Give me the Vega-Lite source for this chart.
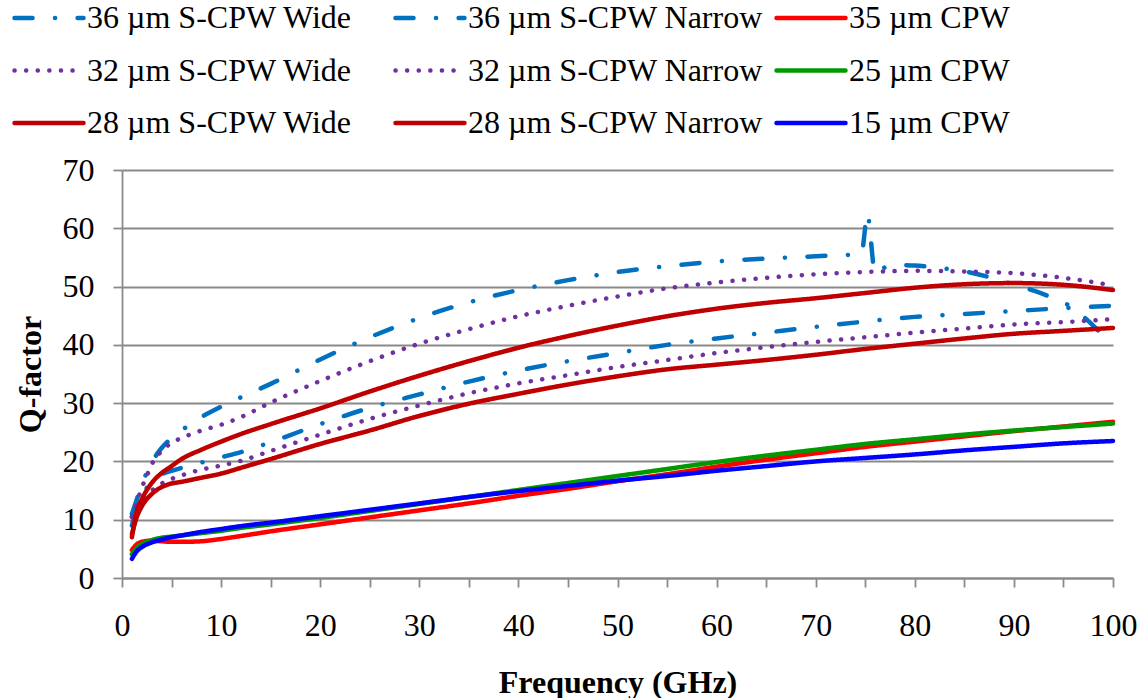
{
  "$schema": "https://vega.github.io/schema/vega-lite/v6.json",
  "width": 991,
  "height": 408,
  "autosize": {"type": "none"},
  "padding": {"left": 122, "top": 170, "right": 32, "bottom": 120},
  "background": "white",
  "config": {
    "view": {"stroke": null},
    "font": "Liberation Serif, Times New Roman, DejaVu Serif, serif",
    "axis": {
      "labelFont": "Liberation Serif, Times New Roman, DejaVu Serif, serif", "labelFontSize": 32, "labelColor": "#000000",
      "titleFont": "Liberation Serif, Times New Roman, DejaVu Serif, serif", "titleFontSize": 32, "titleFontWeight": "bold", "titleColor": "#000000",
      "domainColor": "#8a8a8a", "domainWidth": 1.8, "tickColor": "#8a8a8a", "tickWidth": 1.8,
      "gridColor": "#8a8a8a", "gridWidth": 1.8
    },
    "legend": {"labelFont": "Liberation Serif, Times New Roman, DejaVu Serif, serif"}
  },
  "data": {
    "values": [
      {"s":"36 µm S-CPW Wide","f":1,"q":11},{"s":"36 µm S-CPW Wide","f":1.5,"q":13.5},{"s":"36 µm S-CPW Wide","f":2,"q":16},{"s":"36 µm S-CPW Wide","f":3,"q":19.8},{"s":"36 µm S-CPW Wide","f":4,"q":22.3},{"s":"36 µm S-CPW Wide","f":5,"q":24},{"s":"36 µm S-CPW Wide","f":6,"q":25.3},{"s":"36 µm S-CPW Wide","f":7,"q":26.5},{"s":"36 µm S-CPW Wide","f":8,"q":27.6},{"s":"36 µm S-CPW Wide","f":10,"q":29.4},{"s":"36 µm S-CPW Wide","f":12,"q":31},{"s":"36 µm S-CPW Wide","f":15,"q":33.3},{"s":"36 µm S-CPW Wide","f":20,"q":37.5},{"s":"36 µm S-CPW Wide","f":25,"q":41.3},{"s":"36 µm S-CPW Wide","f":30,"q":44.6},{"s":"36 µm S-CPW Wide","f":35,"q":47.3},{"s":"36 µm S-CPW Wide","f":40,"q":49.4},{"s":"36 µm S-CPW Wide","f":45,"q":51.1},{"s":"36 µm S-CPW Wide","f":50,"q":52.5},{"s":"36 µm S-CPW Wide","f":55,"q":53.5},{"s":"36 µm S-CPW Wide","f":60,"q":54.3},{"s":"36 µm S-CPW Wide","f":65,"q":54.8},{"s":"36 µm S-CPW Wide","f":70,"q":55.2},{"s":"36 µm S-CPW Wide","f":74.6,"q":55.6},{"s":"36 µm S-CPW Wide","f":75.25,"q":62.6},{"s":"36 µm S-CPW Wide","f":75.5,"q":59},{"s":"36 µm S-CPW Wide","f":76,"q":52.3},{"s":"36 µm S-CPW Wide","f":77,"q":53.3},{"s":"36 µm S-CPW Wide","f":78,"q":53.7},{"s":"36 µm S-CPW Wide","f":80,"q":53.6},{"s":"36 µm S-CPW Wide","f":82,"q":53.3},{"s":"36 µm S-CPW Wide","f":85,"q":52.6},{"s":"36 µm S-CPW Wide","f":88,"q":51.4},{"s":"36 µm S-CPW Wide","f":90,"q":50.3},{"s":"36 µm S-CPW Wide","f":92,"q":49.3},{"s":"36 µm S-CPW Wide","f":94,"q":48},{"s":"36 µm S-CPW Wide","f":96,"q":46.3},{"s":"36 µm S-CPW Wide","f":98,"q":43.3},{"s":"36 µm S-CPW Wide","f":100,"q":39.8},

      {"s":"36 µm S-CPW Narrow","f":1,"q":9},{"s":"36 µm S-CPW Narrow","f":1.5,"q":12},{"s":"36 µm S-CPW Narrow","f":2,"q":14},{"s":"36 µm S-CPW Narrow","f":3,"q":16.5},{"s":"36 µm S-CPW Narrow","f":4,"q":17.8},{"s":"36 µm S-CPW Narrow","f":5,"q":18.4},{"s":"36 µm S-CPW Narrow","f":6,"q":18.9},{"s":"36 µm S-CPW Narrow","f":8,"q":19.8},{"s":"36 µm S-CPW Narrow","f":10,"q":20.7},{"s":"36 µm S-CPW Narrow","f":12,"q":21.6},{"s":"36 µm S-CPW Narrow","f":15,"q":23.3},{"s":"36 µm S-CPW Narrow","f":20,"q":26.4},{"s":"36 µm S-CPW Narrow","f":25,"q":29.2},{"s":"36 µm S-CPW Narrow","f":30,"q":31.5},{"s":"36 µm S-CPW Narrow","f":35,"q":33.7},{"s":"36 µm S-CPW Narrow","f":40,"q":35.6},{"s":"36 µm S-CPW Narrow","f":45,"q":37.2},{"s":"36 µm S-CPW Narrow","f":50,"q":38.6},{"s":"36 µm S-CPW Narrow","f":55,"q":40},{"s":"36 µm S-CPW Narrow","f":60,"q":41.1},{"s":"36 µm S-CPW Narrow","f":65,"q":42.1},{"s":"36 µm S-CPW Narrow","f":70,"q":43.1},{"s":"36 µm S-CPW Narrow","f":75,"q":44},{"s":"36 µm S-CPW Narrow","f":80,"q":44.8},{"s":"36 µm S-CPW Narrow","f":85,"q":45.3},{"s":"36 µm S-CPW Narrow","f":90,"q":45.8},{"s":"36 µm S-CPW Narrow","f":95,"q":46.3},{"s":"36 µm S-CPW Narrow","f":100,"q":46.7},

      {"s":"35 µm CPW","f":1,"q":4.8},{"s":"35 µm CPW","f":1.5,"q":5.8},{"s":"35 µm CPW","f":2,"q":6.2},{"s":"35 µm CPW","f":3,"q":6.4},{"s":"35 µm CPW","f":4,"q":6.3},{"s":"35 µm CPW","f":5,"q":6.2},{"s":"35 µm CPW","f":6,"q":6.2},{"s":"35 µm CPW","f":8,"q":6.3},{"s":"35 µm CPW","f":10,"q":6.7},{"s":"35 µm CPW","f":12,"q":7.2},{"s":"35 µm CPW","f":15,"q":8},{"s":"35 µm CPW","f":20,"q":9.2},{"s":"35 µm CPW","f":25,"q":10.4},{"s":"35 µm CPW","f":30,"q":11.6},{"s":"35 µm CPW","f":35,"q":12.8},{"s":"35 µm CPW","f":40,"q":14.1},{"s":"35 µm CPW","f":45,"q":15.3},{"s":"35 µm CPW","f":50,"q":16.6},{"s":"35 µm CPW","f":55,"q":17.8},{"s":"35 µm CPW","f":60,"q":19.1},{"s":"35 µm CPW","f":65,"q":20.3},{"s":"35 µm CPW","f":70,"q":21.4},{"s":"35 µm CPW","f":75,"q":22.5},{"s":"35 µm CPW","f":80,"q":23.4},{"s":"35 µm CPW","f":85,"q":24.3},{"s":"35 µm CPW","f":90,"q":25.2},{"s":"35 µm CPW","f":95,"q":26},{"s":"35 µm CPW","f":100,"q":26.8},

      {"s":"32 µm S-CPW Wide","f":1,"q":10.5},{"s":"32 µm S-CPW Wide","f":1.5,"q":13},{"s":"32 µm S-CPW Wide","f":2,"q":15.5},{"s":"32 µm S-CPW Wide","f":2.5,"q":17.5},{"s":"32 µm S-CPW Wide","f":3,"q":19.5},{"s":"32 µm S-CPW Wide","f":4,"q":21.8},{"s":"32 µm S-CPW Wide","f":5,"q":23.2},{"s":"32 µm S-CPW Wide","f":6,"q":24},{"s":"32 µm S-CPW Wide","f":7,"q":24.7},{"s":"32 µm S-CPW Wide","f":8,"q":25.3},{"s":"32 µm S-CPW Wide","f":10,"q":26.3},{"s":"32 µm S-CPW Wide","f":12,"q":27.6},{"s":"32 µm S-CPW Wide","f":15,"q":30.1},{"s":"32 µm S-CPW Wide","f":20,"q":33.8},{"s":"32 µm S-CPW Wide","f":25,"q":37.2},{"s":"32 µm S-CPW Wide","f":30,"q":40.2},{"s":"32 µm S-CPW Wide","f":35,"q":42.7},{"s":"32 µm S-CPW Wide","f":40,"q":44.9},{"s":"32 µm S-CPW Wide","f":45,"q":46.7},{"s":"32 µm S-CPW Wide","f":50,"q":48.3},{"s":"32 µm S-CPW Wide","f":55,"q":49.7},{"s":"32 µm S-CPW Wide","f":60,"q":50.7},{"s":"32 µm S-CPW Wide","f":65,"q":51.5},{"s":"32 µm S-CPW Wide","f":70,"q":52.1},{"s":"32 µm S-CPW Wide","f":75,"q":52.5},{"s":"32 µm S-CPW Wide","f":80,"q":52.7},{"s":"32 µm S-CPW Wide","f":85,"q":52.6},{"s":"32 µm S-CPW Wide","f":90,"q":52.3},{"s":"32 µm S-CPW Wide","f":95,"q":51.5},{"s":"32 µm S-CPW Wide","f":100,"q":50.2},

      {"s":"32 µm S-CPW Narrow","f":1,"q":10.5},{"s":"32 µm S-CPW Narrow","f":1.5,"q":12.3},{"s":"32 µm S-CPW Narrow","f":2,"q":13.5},{"s":"32 µm S-CPW Narrow","f":3,"q":15},{"s":"32 µm S-CPW Narrow","f":4,"q":16.2},{"s":"32 µm S-CPW Narrow","f":5,"q":17},{"s":"32 µm S-CPW Narrow","f":6,"q":17.6},{"s":"32 µm S-CPW Narrow","f":8,"q":18.6},{"s":"32 µm S-CPW Narrow","f":10,"q":19.3},{"s":"32 µm S-CPW Narrow","f":12,"q":20.1},{"s":"32 µm S-CPW Narrow","f":15,"q":21.8},{"s":"32 µm S-CPW Narrow","f":20,"q":24.6},{"s":"32 µm S-CPW Narrow","f":25,"q":27.3},{"s":"32 µm S-CPW Narrow","f":30,"q":29.6},{"s":"32 µm S-CPW Narrow","f":35,"q":31.7},{"s":"32 µm S-CPW Narrow","f":40,"q":33.4},{"s":"32 µm S-CPW Narrow","f":45,"q":34.8},{"s":"32 µm S-CPW Narrow","f":50,"q":36.2},{"s":"32 µm S-CPW Narrow","f":55,"q":37.4},{"s":"32 µm S-CPW Narrow","f":60,"q":38.6},{"s":"32 µm S-CPW Narrow","f":65,"q":39.6},{"s":"32 µm S-CPW Narrow","f":70,"q":40.5},{"s":"32 µm S-CPW Narrow","f":75,"q":41.3},{"s":"32 µm S-CPW Narrow","f":80,"q":42.1},{"s":"32 µm S-CPW Narrow","f":85,"q":42.8},{"s":"32 µm S-CPW Narrow","f":90,"q":43.5},{"s":"32 µm S-CPW Narrow","f":95,"q":43.9},{"s":"32 µm S-CPW Narrow","f":100,"q":44.4},

      {"s":"25 µm CPW","f":1,"q":4.1},{"s":"25 µm CPW","f":1.5,"q":5.2},{"s":"25 µm CPW","f":2,"q":5.8},{"s":"25 µm CPW","f":3,"q":6.5},{"s":"25 µm CPW","f":4,"q":6.9},{"s":"25 µm CPW","f":5,"q":7.1},{"s":"25 µm CPW","f":6,"q":7.3},{"s":"25 µm CPW","f":8,"q":7.7},{"s":"25 µm CPW","f":10,"q":8.1},{"s":"25 µm CPW","f":12,"q":8.6},{"s":"25 µm CPW","f":15,"q":9.2},{"s":"25 µm CPW","f":20,"q":10.3},{"s":"25 µm CPW","f":25,"q":11.5},{"s":"25 µm CPW","f":30,"q":12.7},{"s":"25 µm CPW","f":35,"q":13.9},{"s":"25 µm CPW","f":40,"q":15.1},{"s":"25 µm CPW","f":45,"q":16.3},{"s":"25 µm CPW","f":50,"q":17.5},{"s":"25 µm CPW","f":55,"q":18.7},{"s":"25 µm CPW","f":60,"q":19.9},{"s":"25 µm CPW","f":65,"q":21},{"s":"25 µm CPW","f":70,"q":22},{"s":"25 µm CPW","f":75,"q":23},{"s":"25 µm CPW","f":80,"q":23.8},{"s":"25 µm CPW","f":85,"q":24.6},{"s":"25 µm CPW","f":90,"q":25.3},{"s":"25 µm CPW","f":95,"q":25.9},{"s":"25 µm CPW","f":100,"q":26.5},

      {"s":"28 µm S-CPW Wide","f":1,"q":7},{"s":"28 µm S-CPW Wide","f":1.5,"q":11.5},{"s":"28 µm S-CPW Wide","f":2,"q":13.5},{"s":"28 µm S-CPW Wide","f":3,"q":16.3},{"s":"28 µm S-CPW Wide","f":4,"q":18},{"s":"28 µm S-CPW Wide","f":5,"q":19.2},{"s":"28 µm S-CPW Wide","f":6,"q":20.4},{"s":"28 µm S-CPW Wide","f":8,"q":22},{"s":"28 µm S-CPW Wide","f":10,"q":23.4},{"s":"28 µm S-CPW Wide","f":12,"q":24.7},{"s":"28 µm S-CPW Wide","f":15,"q":26.4},{"s":"28 µm S-CPW Wide","f":20,"q":29.1},{"s":"28 µm S-CPW Wide","f":25,"q":32},{"s":"28 µm S-CPW Wide","f":30,"q":34.7},{"s":"28 µm S-CPW Wide","f":35,"q":37.2},{"s":"28 µm S-CPW Wide","f":40,"q":39.5},{"s":"28 µm S-CPW Wide","f":45,"q":41.5},{"s":"28 µm S-CPW Wide","f":50,"q":43.3},{"s":"28 µm S-CPW Wide","f":55,"q":44.9},{"s":"28 µm S-CPW Wide","f":60,"q":46.2},{"s":"28 µm S-CPW Wide","f":65,"q":47.2},{"s":"28 µm S-CPW Wide","f":70,"q":48},{"s":"28 µm S-CPW Wide","f":75,"q":48.9},{"s":"28 µm S-CPW Wide","f":80,"q":49.8},{"s":"28 µm S-CPW Wide","f":85,"q":50.4},{"s":"28 µm S-CPW Wide","f":90,"q":50.6},{"s":"28 µm S-CPW Wide","f":95,"q":50.3},{"s":"28 µm S-CPW Wide","f":100,"q":49.4},

      {"s":"28 µm S-CPW Narrow","f":1,"q":7.5},{"s":"28 µm S-CPW Narrow","f":1.5,"q":10.5},{"s":"28 µm S-CPW Narrow","f":2,"q":12.3},{"s":"28 µm S-CPW Narrow","f":3,"q":14.4},{"s":"28 µm S-CPW Narrow","f":4,"q":15.6},{"s":"28 µm S-CPW Narrow","f":5,"q":16.2},{"s":"28 µm S-CPW Narrow","f":6,"q":16.5},{"s":"28 µm S-CPW Narrow","f":8,"q":17.2},{"s":"28 µm S-CPW Narrow","f":10,"q":17.9},{"s":"28 µm S-CPW Narrow","f":12,"q":18.9},{"s":"28 µm S-CPW Narrow","f":15,"q":20.4},{"s":"28 µm S-CPW Narrow","f":20,"q":23},{"s":"28 µm S-CPW Narrow","f":25,"q":25.3},{"s":"28 µm S-CPW Narrow","f":30,"q":27.8},{"s":"28 µm S-CPW Narrow","f":35,"q":29.9},{"s":"28 µm S-CPW Narrow","f":40,"q":31.6},{"s":"28 µm S-CPW Narrow","f":45,"q":33.2},{"s":"28 µm S-CPW Narrow","f":50,"q":34.6},{"s":"28 µm S-CPW Narrow","f":55,"q":35.8},{"s":"28 µm S-CPW Narrow","f":60,"q":36.6},{"s":"28 µm S-CPW Narrow","f":65,"q":37.4},{"s":"28 µm S-CPW Narrow","f":70,"q":38.3},{"s":"28 µm S-CPW Narrow","f":75,"q":39.3},{"s":"28 µm S-CPW Narrow","f":80,"q":40.2},{"s":"28 µm S-CPW Narrow","f":85,"q":41.1},{"s":"28 µm S-CPW Narrow","f":90,"q":41.9},{"s":"28 µm S-CPW Narrow","f":95,"q":42.4},{"s":"28 µm S-CPW Narrow","f":100,"q":42.9},

      {"s":"15 µm CPW","f":1,"q":3.3},{"s":"15 µm CPW","f":1.5,"q":4.6},{"s":"15 µm CPW","f":2,"q":5.3},{"s":"15 µm CPW","f":3,"q":6.1},{"s":"15 µm CPW","f":4,"q":6.6},{"s":"15 µm CPW","f":5,"q":7},{"s":"15 µm CPW","f":6,"q":7.3},{"s":"15 µm CPW","f":8,"q":7.9},{"s":"15 µm CPW","f":10,"q":8.4},{"s":"15 µm CPW","f":12,"q":8.9},{"s":"15 µm CPW","f":15,"q":9.5},{"s":"15 µm CPW","f":20,"q":10.6},{"s":"15 µm CPW","f":25,"q":11.7},{"s":"15 µm CPW","f":30,"q":12.8},{"s":"15 µm CPW","f":35,"q":13.9},{"s":"15 µm CPW","f":40,"q":14.9},{"s":"15 µm CPW","f":45,"q":15.8},{"s":"15 µm CPW","f":50,"q":16.7},{"s":"15 µm CPW","f":55,"q":17.5},{"s":"15 µm CPW","f":60,"q":18.4},{"s":"15 µm CPW","f":65,"q":19.2},{"s":"15 µm CPW","f":70,"q":20},{"s":"15 µm CPW","f":75,"q":20.6},{"s":"15 µm CPW","f":80,"q":21.2},{"s":"15 µm CPW","f":85,"q":21.9},{"s":"15 µm CPW","f":90,"q":22.5},{"s":"15 µm CPW","f":95,"q":23.1},{"s":"15 µm CPW","f":100,"q":23.5}
    ]
  },
  "mark": {"type": "line", "interpolate": "monotone", "strokeWidth": 4.5, "strokeCap": "round", "strokeJoin": "round"},
  "encoding": {
    "x": {
      "field": "f", "type": "quantitative",
      "scale": {"domain": [0, 100], "nice": false},
      "axis": {
        "title": "Frequency (GHz)", "grid": false,
        "values": [0,5,10,15,20,25,30,35,40,45,50,55,60,65,70,75,80,85,90,95,100],
        "labelExpr": "datum.value % 10 === 0 ? datum.label : ''",
        "tickSize": 9, "labelPadding": 23, "titlePadding": 26, "labelFlush": false, "labelOverlap": false
      }
    },
    "y": {
      "field": "q", "type": "quantitative",
      "scale": {"domain": [0, 70], "nice": false},
      "axis": {
        "title": "Q-factor", "values": [0,10,20,30,40,50,60,70],
        "tickSize": 9, "labelPadding": 19, "titlePadding": 15, "grid": true
      }
    },
    "color": {
      "field": "s", "type": "nominal",
      "scale": {
        "domain": ["36 µm S-CPW Wide","36 µm S-CPW Narrow","35 µm CPW","32 µm S-CPW Wide","32 µm S-CPW Narrow","25 µm CPW","28 µm S-CPW Wide","28 µm S-CPW Narrow","15 µm CPW"],
        "range": ["#0070C0","#0070C0","#FF0000","#7030A0","#7030A0","#009900","#C00000","#C00000","#0000FF"]
      },
      "legend": {
        "title": null, "orient": "none", "legendX": -110, "legendY": -167,
        "direction": "horizontal", "columns": 3, "gridAlign": "all",
        "symbolType": "stroke", "symbolSize": 4761, "symbolStrokeWidth": 4.5,
        "labelFont": "Liberation Serif, Times New Roman, DejaVu Serif, serif", "labelFontSize": 32, "labelColor": "#000000", "labelLimit": 0,
        "labelOffset": 1, "clipHeight": 30, "rowPadding": 20.5, "columnPadding": 11, "padding": 0,
        "encode": {"symbols": {"update": {"strokeCap": {"value": "round"}}}}
      }
    },
    "strokeDash": {
      "field": "s", "type": "nominal",
      "scale": {
        "domain": ["36 µm S-CPW Wide","36 µm S-CPW Narrow","35 µm CPW","32 µm S-CPW Wide","32 µm S-CPW Narrow","25 µm CPW","28 µm S-CPW Wide","28 µm S-CPW Narrow","15 µm CPW"],
        "range": [[18,22.5,0.1,22.5],[18,22.5,0.1,22.5],[1,0],[0.1,11.5],[0.1,11.5],[1,0],[1,0],[1,0],[1,0]]
      },
      "legend": {
        "title": null, "orient": "none", "legendX": -110, "legendY": -167,
        "direction": "horizontal", "columns": 3, "gridAlign": "all",
        "symbolType": "stroke", "symbolSize": 4761, "symbolStrokeWidth": 4.5,
        "labelFont": "Liberation Serif, Times New Roman, DejaVu Serif, serif", "labelFontSize": 32, "labelColor": "#000000", "labelLimit": 0,
        "labelOffset": 1, "clipHeight": 30, "rowPadding": 20.5, "columnPadding": 11, "padding": 0,
        "encode": {"symbols": {"update": {"strokeCap": {"value": "round"}}}}
      }
    }
  }
}
